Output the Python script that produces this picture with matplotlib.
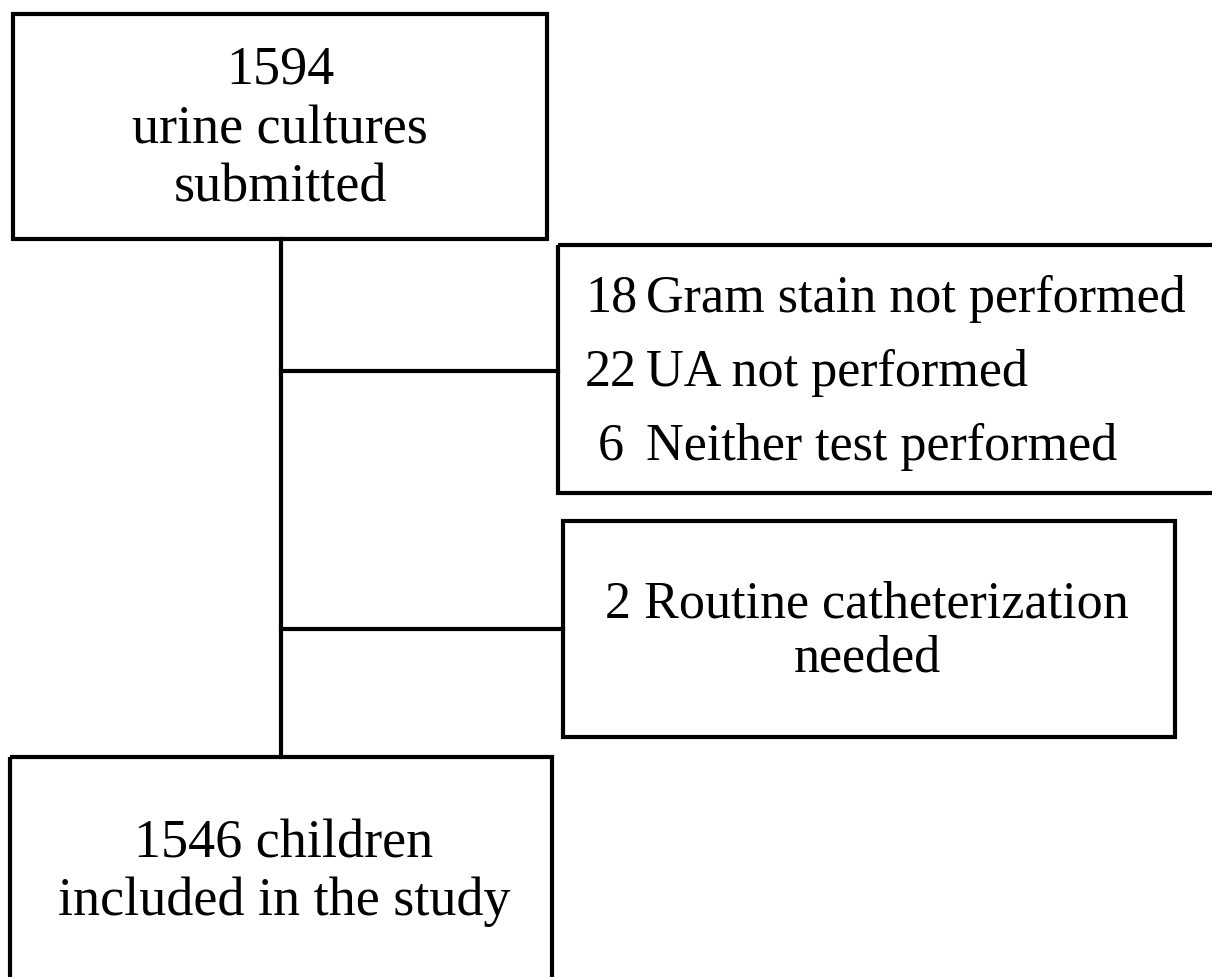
import matplotlib.pyplot as plt
from matplotlib.patches import Rectangle

plt.rcParams['font.family'] = ['Liberation Serif', 'DejaVu Serif']

# Flowchart content
top_lines = ["1594", "urine cultures", "submitted"]
excl_counts = ["18", "22", "6"]
excl_labels = ["Gram stain not performed", "UA not performed", "Neither test performed"]
cath_lines = ["2 Routine catheterization", "needed"]
final_lines = ["1546 children", "included in the study"]

# box layout in pixel units: (left, top, right, bottom)
boxes = {
    'top': (13, 14, 547, 239),
    'excl': (558, 245, 1240, 493),
    'cath': (563, 521, 1175, 737),
    'final': (10, 757, 552, 1000),
}
trunk_x = 281
branch_y = [371, 629]

fig = plt.figure(figsize=(12.12, 9.77), dpi=100)
ax = fig.add_axes([0, 0, 1, 1])
ax.set_xlim(0, 1212)
ax.set_ylim(977, 0)
ax.axis('off')

lw = 3.0
for name, (l, t, r, b) in boxes.items():
    ax.add_patch(Rectangle((l, t), r - l, b - t, fill=False, ec='black',
                           lw=lw, joinstyle='miter', clip_on=True))

# connectors
ax.plot([trunk_x, trunk_x], [boxes['top'][3], boxes['final'][1]], color='black', lw=lw)
ax.plot([trunk_x, boxes['excl'][0]], [branch_y[0]] * 2, color='black', lw=lw)
ax.plot([trunk_x, boxes['cath'][0]], [branch_y[1]] * 2, color='black', lw=lw)

big = 39
mid = 37.5

for y, line in zip([83, 143, 202], top_lines):
    ax.text(280, y, line, ha='center', va='baseline', fontsize=big)

for y, c, lab in zip([312, 386, 460], excl_counts, excl_labels):
    ax.text(611, y, c, ha='center', va='baseline', fontsize=mid)
    ax.text(646, y, lab, ha='left', va='baseline', fontsize=mid)

for y, line in zip([617, 672], cath_lines):
    ax.text(867, y, line, ha='center', va='baseline', fontsize=mid)

for y, line in zip([858, 915], final_lines):
    ax.text(284, y, line, ha='center', va='baseline', fontsize=big)

fig.savefig('out.png', dpi=100, facecolor='white')
